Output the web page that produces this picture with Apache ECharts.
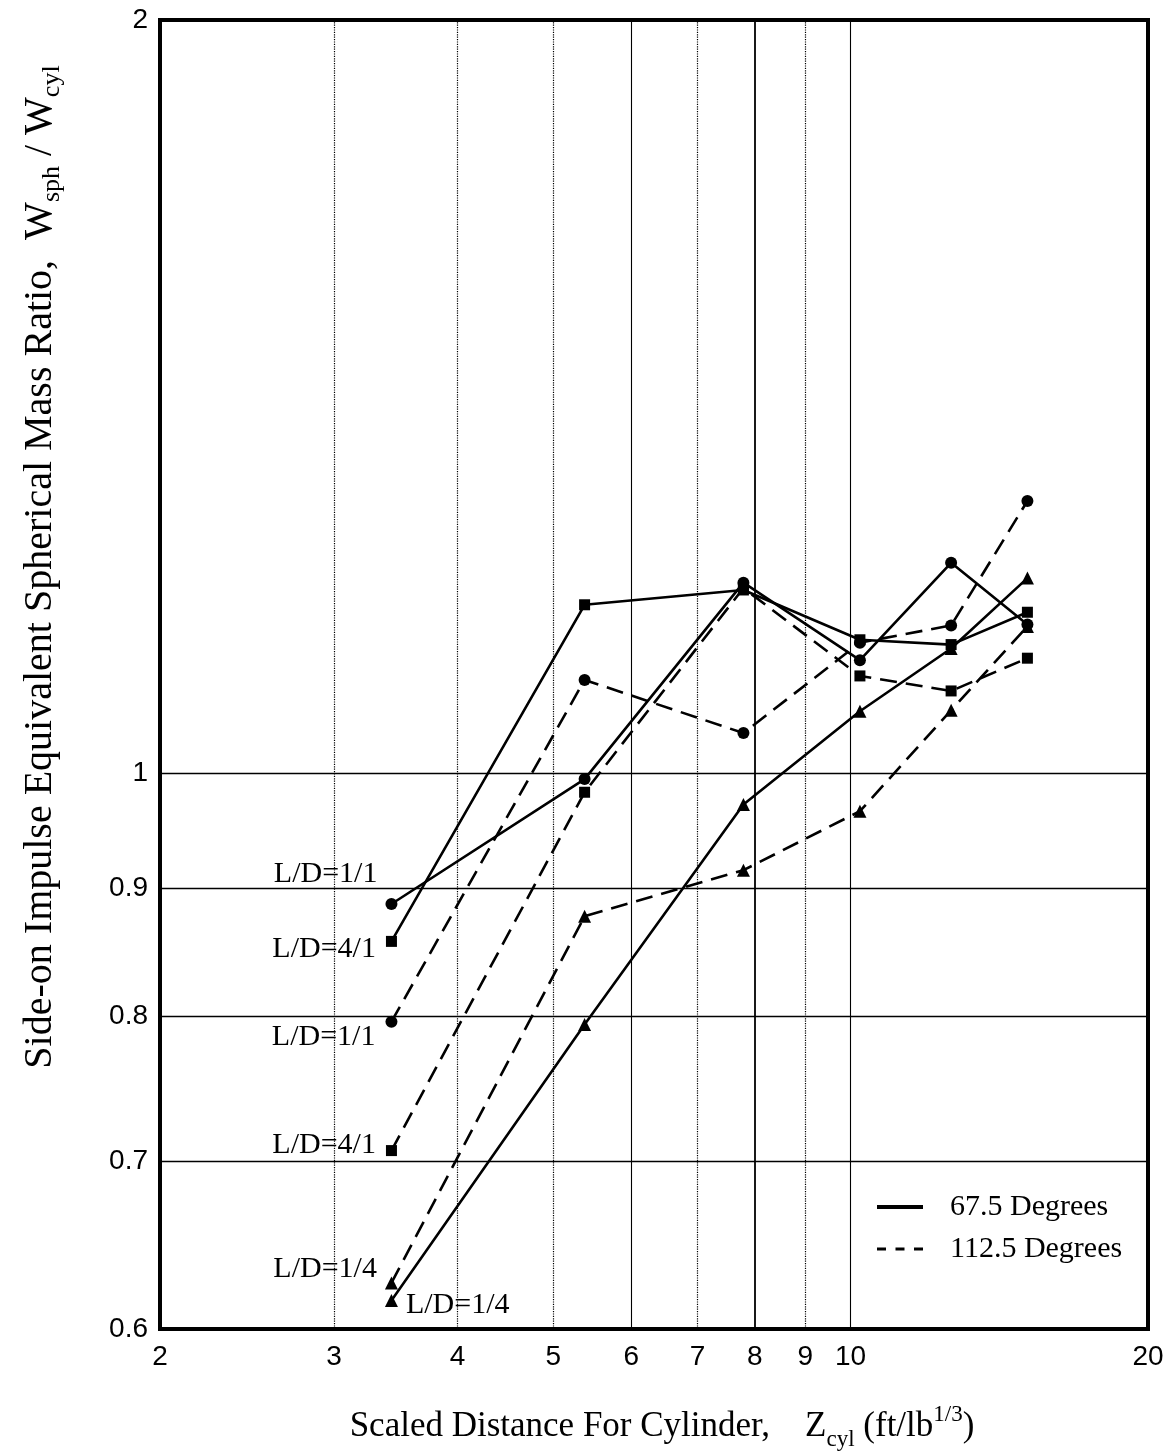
<!DOCTYPE html>
<html><head><meta charset="utf-8">
<script src="https://cdn.jsdelivr.net/npm/echarts@6/dist/echarts.min.js"></script>
<style>html,body{margin:0;padding:0;background:#fff}#c{width:1176px;height:1455px}</style>
</head><body><div id="c"></div>
<script>
// ---- data ----
const xValues = [3.43, 5.38, 7.79, 10.22, 12.64, 15.1];
const circle675 = [0.887, 0.995, 1.192, 1.110, 1.214, 1.147];
const square675 = [0.857, 1.168, 1.184, 1.131, 1.126, 1.160];
const triangle675 = [0.616, 0.794, 0.972, 1.059, 1.122, 1.197];
const circle1125 = [0.796, 1.090, 1.038, 1.128, 1.146, 1.285];
const square1125 = [0.707, 0.983, 1.186, 1.094, 1.079, 1.112];
const triangle1125 = [0.626, 0.877, 0.915, 0.966, 1.060, 1.145];
const xTicks = [2, 3, 4, 5, 6, 7, 8, 9, 10, 20];
const yTicks = [0.6, 0.7, 0.8, 0.9, 1, 2];
const xGridDotted = [3, 4, 5, 7, 9];
const xGridSolid = [6, 8, 10];
const yGrid = [0.7, 0.8, 0.9, 1];
const legendNames = ['67.5 Degrees', '112.5 Degrees'];

const serif = 'Liberation Serif';
const sans = 'Liberation Sans';
const DASH = [17, 9];

function fmt(v) { return String(+(+v).toPrecision(3)); }

function mk(name, ys, symbol, size, dashed, lbl) {
  return {
    name: name, type: 'line', symbol: symbol, symbolSize: size,
    itemStyle: { color: '#000' },
    lineStyle: { color: '#000', width: 2.6, type: dashed ? DASH : 'solid' },
    animation: false, z: 3,
    data: xValues.map((x, i) => {
      const d = { value: [x, ys[i]] };
      if (i === 0) d.label = Object.assign({ show: true, color: '#000', fontFamily: serif, fontSize: 30 }, lbl);
      return d;
    })
  };
}

const series = [
  mk('c675', circle675, 'circle', 12, false, { position: 'left', distance: 8, offset: [0, -30], formatter: 'L/D=1/1' }),
  mk('s675', square675, 'rect', 11, false, { position: 'left', distance: 10, offset: [0, 8], formatter: 'L/D=4/1' }),
  mk('t675', triangle675, 'triangle', 13, false, { position: 'right', distance: 8, offset: [0, 5], formatter: 'L/D=1/4' }),
  mk('c1125', circle1125, 'circle', 12, true, { position: 'left', distance: 10, offset: [0, 15], formatter: 'L/D=1/1' }),
  mk('s1125', square1125, 'rect', 11, true, { position: 'left', distance: 10, offset: [0, -5], formatter: 'L/D=4/1' }),
  mk('t1125', triangle1125, 'triangle', 13, true, { position: 'left', distance: 8, offset: [0, -14], formatter: 'L/D=1/4' })
];

// grid lines through the axes' own scales
series[0].markLine = {
  silent: true, symbol: ['none', 'none'], label: { show: false }, animation: false,
  data: [].concat(
    xGridDotted.map(v => ({ xAxis: v, lineStyle: { type: 'dotted', width: 1.2, color: '#000' } })),
    xGridSolid.map(v => ({ xAxis: v, lineStyle: { type: 'solid', width: v === 8 ? 1.8 : 1.1, color: '#000' } })),
    yGrid.map(v => ({ yAxis: v, lineStyle: { type: 'solid', width: 1.3, color: '#000' } }))
  )
};

// legend helper series (no data)
series.push({ name: legendNames[0], type: 'line', symbol: 'none', data: [], lineStyle: { color: '#000', width: 3.5 }, itemStyle: { color: '#000' } });
series.push({ name: legendNames[1], type: 'line', symbol: 'none', data: [], lineStyle: { color: '#000', width: 2.5, type: [8, 8] }, itemStyle: { color: '#000' } });

const chart = echarts.init(document.getElementById('c'), null, { renderer: 'canvas' });
chart.setOption({
  backgroundColor: '#fff',
  animation: false,
  grid: { left: 160, right: 28, top: 20, bottom: 126, show: true, borderColor: '#000', borderWidth: 4, backgroundColor: 'transparent' },
  xAxis: {
    type: 'log', logBase: 10, min: 2, max: 20,
    axisLine: { show: false }, axisTick: { show: false }, splitLine: { show: false },
    axisLabel: { customValues: xTicks, formatter: fmt, color: '#000', fontFamily: sans, fontSize: 28, margin: 14 }
  },
  yAxis: {
    type: 'log', logBase: 10, min: 0.6, max: 2,
    axisLine: { show: false }, axisTick: { show: false }, splitLine: { show: false },
    axisLabel: { customValues: yTicks, formatter: fmt, color: '#000', fontFamily: sans, fontSize: 28, margin: 12 }
  },
  legend: {
    data: [
      { name: legendNames[0], icon: 'path://M0,0H46V4H0Z' },
      { name: legendNames[1], icon: 'path://M0,0H9V3H0Z M18.5,0H27.5V3H18.5Z M37,0H46V3H37Z' }
    ],
    orient: 'vertical', left: 872, top: 1187,
    itemWidth: 46, itemHeight: 4, itemGap: 12, selectedMode: false,
    itemStyle: { color: '#000' },
    textStyle: { fontFamily: serif, fontSize: 30, color: '#000', lineHeight: 30, padding: [0, 0, 0, 22] }
  },
  graphic: [
    {
      type: 'text', x: 662, y: 1427,
      style: {
        text: '{n|Scaled Distance For Cylinder,    Z}{s|cyl}{n| (ft/lb}{p|1/3}{n|)}',
        align: 'center', verticalAlign: 'middle', fill: '#000',
        rich: {
          n: { fontFamily: serif, fontSize: 35, lineHeight: 48, verticalAlign: 'middle', fill: '#000' },
          s: { fontFamily: serif, fontSize: 23, lineHeight: 25, verticalAlign: 'bottom', fill: '#000' },
          p: { fontFamily: serif, fontSize: 23, lineHeight: 25, verticalAlign: 'top', fill: '#000' }
        }
      }
    },
    {
      type: 'text', x: 40, y: 567, rotation: Math.PI / 2,
      style: {
        text: '{n|Side-on Impulse Equivalent Spherical Mass Ratio,  W}{s|sph}{n| / W}{s|cyl}',
        align: 'center', verticalAlign: 'middle', fill: '#000',
        rich: {
          n: { fontFamily: serif, fontSize: 40, lineHeight: 50, verticalAlign: 'middle', fill: '#000' },
          s: { fontFamily: serif, fontSize: 26, lineHeight: 27, verticalAlign: 'bottom', fill: '#000' }
        }
      }
    }
  ],
  series: series
});
</script></body></html>
